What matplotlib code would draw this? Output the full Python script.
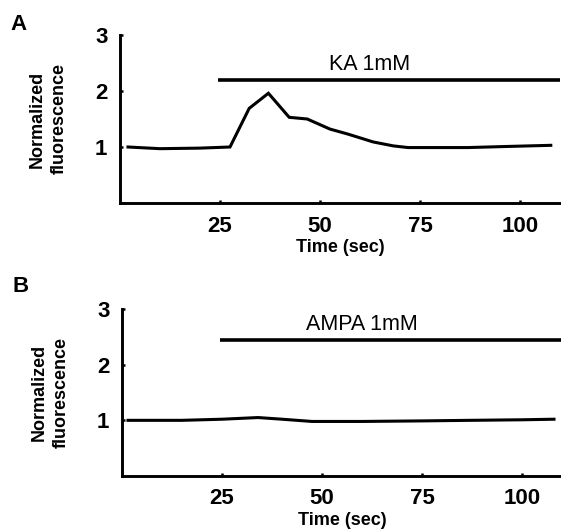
"""Two-panel fluorescence traces: KA vs AMPA application."""
import matplotlib
matplotlib.use('Agg')
import matplotlib.pyplot as plt

plt.rcParams['font.family'] = ['Liberation Sans', 'DejaVu Sans']

# Panel A: KA 1mM
time_a = [2, 10, 20, 27.5, 32.3, 37.1, 42.3, 46.8, 52.5, 57, 63.3, 68.3, 72, 80, 87, 97, 107.7]
fluor_a = [1.0, 0.97, 0.98, 1.0, 1.69, 1.96, 1.53, 1.5, 1.32, 1.23, 1.09, 1.02, 0.99, 0.99, 0.99, 1.01, 1.03]
stim_a = [24.5, 110]
stim_level_a = 2.2
label_a = 'KA 1mM'

# Panel B: AMPA 1mM
time_b = [1.5, 15, 25, 34, 40, 47.5, 60, 75, 87, 100, 108]
fluor_b = [1.0, 1.0, 1.02, 1.05, 1.02, 0.98, 0.98, 0.99, 1.0, 1.01, 1.02]
stim_b = [24.5, 110]
stim_level_b = 2.44
label_b = 'AMPA 1mM'

xticks = [25, 50, 75, 100]
yticks = [1, 2, 3]

W, H = 561, 530
fig = plt.figure(figsize=(W / 100, H / 100), dpi=100)


def panel(rect, t, f, stim, level, label, label_x, letter, letter_xy):
    ax = fig.add_axes(rect)
    ax.plot(t, f, color='black', lw=2.2, solid_joinstyle='miter')
    ax.plot(stim, [level, level], color='black', lw=2.6, solid_capstyle='butt')
    ax.text(label_x, level + 0.28, label, ha='center', va='center', fontsize=15.5)
    ax.set_xlim(0, 110)
    ax.set_ylim(0, 3)
    ax.set_xticks(xticks)
    ax.set_yticks(yticks)
    for s in ['top', 'right']:
        ax.spines[s].set_visible(False)
    for s in ['left', 'bottom']:
        ax.spines[s].set_linewidth(2.1)
    ax.tick_params(direction='in', length=2.5, width=1.8, labelsize=16, pad=9)
    for lab in ax.get_xticklabels() + ax.get_yticklabels():
        lab.set_fontweight('bold')
    ax.set_xlabel('Time (sec)', fontsize=13, fontweight='bold', labelpad=2)
    ax.set_ylabel('Normalized\nfluorescence', fontsize=13, fontweight='bold',
                  labelpad=20, linespacing=1.35)
    fig.text(letter_xy[0] / W, 1 - letter_xy[1] / H, letter, fontsize=16,
             fontweight='bold', ha='center', va='center')
    return ax


panel([120 / W, 1 - 203 / H, 440 / W, 168 / H], time_a, fluor_a, stim_a,
      stim_level_a, label_a, 62.5, 'A', (18, 25))
panel([122 / W, 1 - 476 / H, 440 / W, 167 / H], time_b, fluor_b, stim_b,
      stim_level_b, label_b, 60, 'B', (21, 287))

fig.savefig('out.png', dpi=100)
